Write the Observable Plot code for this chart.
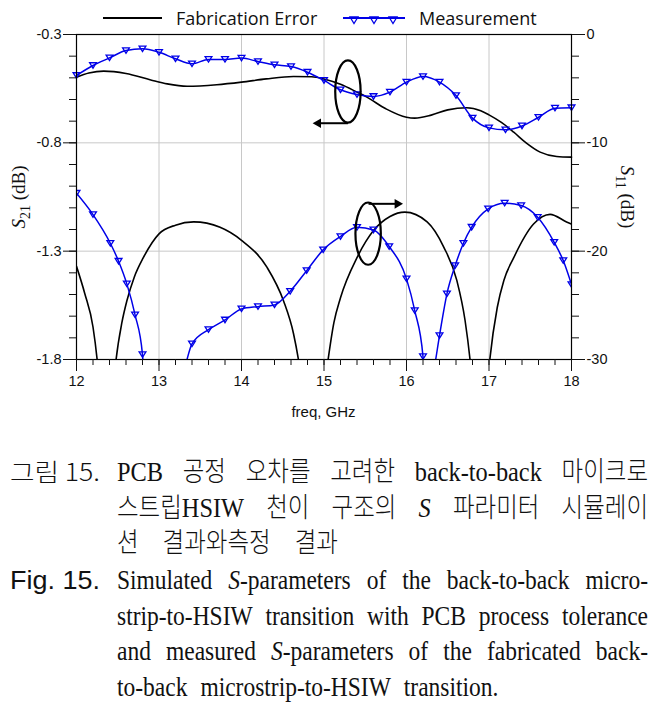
<!DOCTYPE html>
<html>
<head>
<meta charset="utf-8">
<script src="https://cdn.jsdelivr.net/npm/d3@7"></script>
<script src="https://cdn.jsdelivr.net/npm/@observablehq/plot@0.6"></script>
<style>
  html, body { margin: 0; padding: 0; background: #fff; }
  #wrap { position: relative; width: 654px; height: 707px; overflow: hidden; background: #fff; }
  #wrap svg { display: block; }
</style>
</head>
<body>
<div id="wrap"></div>
<script>
// ---------------- data ----------------
const freqTicks = [12, 13, 14, 15, 16, 17, 18];
const s21Ticks = [-0.3, -0.8, -1.3, -1.8];
const s11Ticks = [0, -10, -20, -30];

// simulated S21 with PCB tolerance ("Fabrication Error"), dB
const s21SimFreq = [12.0, 12.15, 12.33, 12.6, 12.9, 13.1, 13.34, 13.7, 14.0, 14.3, 14.63, 14.85, 15.0, 15.2, 15.4, 15.52, 15.75, 16.0, 16.1, 16.3, 16.5, 16.73, 16.9, 17.0, 17.15, 17.3, 17.45, 17.62, 17.82, 18.0];
const s21Sim     = [-0.497, -0.478, -0.469, -0.48, -0.51, -0.528, -0.539, -0.532, -0.52, -0.505, -0.494, -0.495, -0.505, -0.53, -0.566, -0.589, -0.643, -0.682, -0.686, -0.672, -0.648, -0.638, -0.652, -0.671, -0.706, -0.751, -0.8, -0.843, -0.863, -0.866];

// measured S21, dB
const s21MeasFreq = [12.0, 12.2, 12.4, 12.6, 12.8, 13.0, 13.2, 13.4, 13.6, 13.8, 14.0, 14.2, 14.4, 14.6, 14.8, 15.0, 15.2, 15.4, 15.6, 15.8, 16.0, 16.2, 16.4, 16.6, 16.8, 17.0, 17.2, 17.4, 17.6, 17.8, 18.0];
const s21Meas     = [-0.489, -0.443, -0.408, -0.374, -0.366, -0.382, -0.412, -0.435, -0.415, -0.415, -0.409, -0.425, -0.44, -0.448, -0.474, -0.512, -0.555, -0.577, -0.586, -0.566, -0.52, -0.494, -0.52, -0.582, -0.686, -0.731, -0.74, -0.722, -0.682, -0.64, -0.638];

// simulated S11 with PCB tolerance, dB (values below -30 are estimated, off-scale)
const s11SimFreq = [12.0, 12.1, 12.2, 12.25, 12.36, 12.48, 12.55, 12.61, 12.7, 12.81, 13.0, 13.2, 13.42, 13.74, 14.0, 14.31, 14.51, 14.63, 14.69, 14.87, 15.05, 15.12, 15.2, 15.4, 15.6, 15.8, 15.98, 16.25, 16.45, 16.61, 16.71, 16.77, 16.89, 17.01, 17.1, 17.18, 17.3, 17.54, 17.74, 17.94, 18.0];
const s11Sim     = [-21.4, -23.9, -27.0, -30, -42, -30, -26.6, -24.6, -22.4, -20.6, -18.4, -17.6, -17.3, -17.8, -19.0, -21.5, -24.6, -27.6, -30, -42, -30, -26.6, -24.3, -20.6, -18.1, -16.8, -16.4, -17.3, -19.6, -22.7, -26.4, -30, -42, -30, -25.2, -22.7, -20.6, -17.5, -16.6, -17.3, -17.5];

// measured S11, dB (values below -30 are estimated, off-scale)
const s11MeasFreq = [12.0, 12.2, 12.41, 12.51, 12.61, 12.71, 12.8, 12.83, 13.27, 13.4, 13.6, 13.8, 14.0, 14.2, 14.4, 14.59, 14.79, 14.99, 15.2, 15.4, 15.6, 15.79, 16.0, 16.1, 16.2, 16.22, 16.33, 16.4, 16.49, 16.59, 16.69, 16.79, 16.99, 17.19, 17.39, 17.59, 17.79, 17.9, 18.0];
const s11Meas     = [-14.65, -16.62, -19.27, -20.93, -23.02, -25.88, -29.55, -33, -31.5, -28.56, -27.24, -26.35, -25.33, -25.12, -24.96, -23.7, -21.8, -19.88, -18.65, -17.8, -18.04, -19.57, -22.56, -25.48, -29.73, -33, -31, -27.79, -23.94, -21.33, -19.27, -17.79, -16.09, -15.57, -15.79, -16.87, -19.18, -20.87, -23.08];

// annotations (ellipse centres and arrows), in left-axis units
const ellipseFreq = [15.29, 15.535];
const ellipseLevel = [-0.563, -1.219];
const arrowFrom = [15.29, 15.54];
const arrowTo   = [14.93, 15.89];
const arrowLevel = [-0.7095, -1.0815];

// ---------------- helpers ----------------
const toLeft = (db) => -0.3 + db * 0.05;        // S11 (dB) -> S21 axis units
const fromLeft = (v) => Math.round((v + 0.3) / 0.05);
const BLUE = "#0000e8";

const sim21 = s21SimFreq.map((f, i) => ({f, v: s21Sim[i]}));
const meas21 = s21MeasFreq.map((f, i) => ({f, v: s21Meas[i]}));
const sim11 = s11SimFreq.map((f, i) => ({f, v: toLeft(s11Sim[i])}));
const meas11 = s11MeasFreq.map((f, i) => ({f, v: toLeft(s11Meas[i])}));
const ellipses = ellipseFreq.map((f, i) => ({f, v: ellipseLevel[i]}));
const arrows = arrowFrom.map((f, i) => ({x1: f, x2: arrowTo[i], y: arrowLevel[i]}));

const minorX = d3.range(60, 91).map(d => d / 5);
const minorY = d3.range(-18, -2).map(d => d / 10);

const invTriangle = {
  draw(ctx, size) {
    const r = Math.sqrt(size / Math.PI);
    const w = r, h = r * 0.8;
    ctx.moveTo(-w, -h); ctx.lineTo(w, -h); ctx.lineTo(0, h); ctx.closePath();
  }
};
const ellipseSym = {
  draw(ctx, size) {
    const r = Math.sqrt(size / Math.PI);
    const rx = r, ry = r * 2.45, k = 0.5523;
    ctx.moveTo(rx, 0);
    ctx.bezierCurveTo(rx, ry * k, rx * k, ry, 0, ry);
    ctx.bezierCurveTo(-rx * k, ry, -rx, ry * k, -rx, 0);
    ctx.bezierCurveTo(-rx, -ry * k, -rx * k, -ry, 0, -ry);
    ctx.bezierCurveTo(rx * k, -ry, rx, -ry * k, rx, 0);
    ctx.closePath();
  }
};

// ---------------- chart ----------------
const chart = Plot.plot({
  width: 654,
  height: 430,
  marginTop: 34,
  marginBottom: 71,
  marginLeft: 76,
  marginRight: 83,
  style: {fontFamily: "'Liberation Sans', Arial, sans-serif", fontSize: "14px", overflow: "visible", background: "transparent", color: "#111"},
  x: {domain: [12, 18], axis: null},
  y: {domain: [-1.8, -0.3], axis: null},
  marks: [
    Plot.ruleX(freqTicks.slice(1, -1), {stroke: "#c8c8c8", strokeWidth: 1}),
    Plot.ruleY(s21Ticks.slice(1, -1), {stroke: "#c8c8c8", strokeWidth: 1}),
    Plot.line(sim21, {x: "f", y: "v", stroke: "black", strokeWidth: 1.6, curve: "monotone-x"}),
    Plot.line(sim11, {x: "f", y: "v", stroke: "black", strokeWidth: 1.6, curve: "monotone-x", clip: true}),
    Plot.line(meas21, {x: "f", y: "v", stroke: BLUE, strokeWidth: 1.5, curve: "monotone-x"}),
    Plot.line(meas11, {x: "f", y: "v", stroke: BLUE, strokeWidth: 1.5, curve: "monotone-x", clip: true}),
    Plot.dot(meas21, {x: "f", y: "v", symbol: invTriangle, r: 3.4, stroke: BLUE, fill: "none", strokeWidth: 1.3}),
    Plot.dot(meas11, {x: "f", y: "v", symbol: invTriangle, r: 3.4, stroke: BLUE, fill: "none", strokeWidth: 1.3, clip: true}),
    Plot.dot(ellipses, {x: "f", y: "v", symbol: ellipseSym, r: 12.7, stroke: "black", fill: "none", strokeWidth: 2.2}),
    Plot.link(arrows, {x1: "x1", x2: "x2", y1: "y", y2: "y", stroke: "black", strokeWidth: 2}),
    Plot.dot(arrows, {x: "x2", y: "y", symbol: "triangle", rotate: d => d.x2 < d.x1 ? -90 : 90, r: 3.6, fill: "black", stroke: "none"}),
    Plot.frame({stroke: "black", strokeWidth: 1.2}),
    Plot.axisX(freqTicks, {anchor: "bottom", tickSize: 12, tickPadding: 4, fontSize: 14.5, tickFormat: d => String(d), label: null}),
    Plot.axisX(minorX, {anchor: "bottom", tickSize: 6, tickFormat: () => "", label: null}),
    Plot.axisY(s21Ticks, {anchor: "left", tickSize: 13, tickPadding: 2, fontSize: 14.5, tickFormat: d => d.toFixed(1), label: null}),
    Plot.axisY(minorY, {anchor: "left", tickSize: 7, tickFormat: () => "", label: null}),
    Plot.axisY(s11Ticks.map(toLeft), {anchor: "right", tickSize: 13, tickPadding: 2, fontSize: 14.5, tickFormat: d => String(fromLeft(d)), label: null}),
    Plot.axisY(minorY, {anchor: "right", tickSize: 7, tickFormat: () => "", label: null})
  ]
});
document.getElementById("wrap").appendChild(chart);

const svg = d3.select(chart);
// x-axis title
svg.append("text").attr("x", 323.5).attr("y", 417).attr("text-anchor", "middle")
  .attr("font-family", "'Liberation Sans', Arial, sans-serif").attr("font-size", 15).attr("fill", "#111")
  .text("freq, GHz");
// y-axis titles
function yTitle(x, rot, sub) {
  const t = svg.append("text").attr("transform", `translate(${x},197) rotate(${rot})`)
    .attr("text-anchor", "middle").attr("font-family", "'Liberation Serif', 'Times New Roman', serif")
    .attr("font-size", 19).attr("fill", "#111");
  t.append("tspan").attr("font-style", "italic").text("S");
  t.append("tspan").attr("font-size", 14).attr("dy", 5).text(sub);
  t.append("tspan").attr("dy", -5).text(" (dB)");
}
yTitle(25, -90, "21");
yTitle(621, 90, "11");

// ---------------- legend ----------------
const leg = d3.select("#wrap").append("svg").attr("width", 654).attr("height", 34)
  .style("position", "absolute").style("left", "0px").style("top", "0px");
const legFont = "'Open Sans', 'Noto Sans', sans-serif";
leg.append("line").attr("x1", 103).attr("x2", 162).attr("y1", 18).attr("y2", 18).attr("stroke", "black").attr("stroke-width", 2);
leg.append("text").attr("x", 176).attr("y", 24.5).attr("font-family", legFont).attr("font-size", 18).attr("fill", "#111").text("Fabrication Error");
leg.append("line").attr("x1", 343).attr("x2", 405).attr("y1", 18).attr("y2", 18).attr("stroke", BLUE).attr("stroke-width", 2);
[354, 374, 393].forEach(cx => {
  leg.append("path").attr("d", `M${cx - 4},${17}L${cx + 4},${17}L${cx},${23.5}Z`).attr("fill", "none").attr("stroke", BLUE).attr("stroke-width", 1.3);
});
leg.append("text").attr("x", 419).attr("y", 24.5).attr("font-family", legFont).attr("font-size", 18).attr("fill", "#111").text("Measurement");

// ---------------- caption ----------------
const cap = d3.select("#wrap").append("svg").attr("width", 654).attr("height", 277)
  .style("position", "absolute").style("left", "0px").style("top", "430px");
const serif = "'Liberation Serif', 'Times New Roman', serif";
const hangulFont = "'Noto Sans CJK KR', sans-serif";
const sansK = "'Noto Sans CJK KR', 'Liberation Sans', sans-serif";
const sansE = "'Liberation Sans', Arial, sans-serif";

function addWord(parent, word, latinSize, hangulSize) {
  const t = parent.append("text").attr("font-family", serif).attr("font-size", latinSize).attr("fill", "#111");
  word.split("*").forEach((part, i) => {
    if (!part) return;
    if (i % 2 === 1) { t.append("tspan").attr("font-style", "italic").text(part); return; }
    part.split(/([\uAC00-\uD7A3]+)/).forEach(run => {
      if (!run) return;
      const ts = t.append("tspan").text(run);
      if (/[\uAC00-\uD7A3]/.test(run)) ts.attr("font-family", hangulFont).attr("font-size", hangulSize).attr("font-weight", 300);
    });
  });
  return t;
}
function layoutLine(y, words, {x0 = 117, x1 = 648, justify = true, size = 27, hsize = 27, sx = 0.86, gap = 14} = {}) {
  const g = cap.append("g").attr("transform", `translate(${x0},${y}) scale(${sx},1)`);
  const ts = words.map(w => addWord(g, w, size, hsize));
  const ws = ts.map(t => t.node().getComputedTextLength());
  const avail = (x1 - x0) / sx;
  const g0 = justify && words.length > 1 ? (avail - d3.sum(ws)) / (words.length - 1) : gap / sx;
  let x = 0;
  ts.forEach((t, i) => { t.attr("x", x); x += ws[i] + g0; });
}
function label(y, text, font, size, weight) {
  cap.append("text").attr("x", 10).attr("y", y).attr("font-family", font).attr("font-size", size)
    .attr("font-weight", weight).attr("fill", "#111")
    .attr("textLength", 90).attr("lengthAdjust", "spacingAndGlyphs").text(text);
}

const capKo = [
  ["PCB", "공정", "오차를", "고려한", "back-to-back", "마이크로"],
  ["스트립HSIW", "천이", "구조의", "*S*", "파라미터", "시뮬레이"],
  ["션", "결과와측정", "결과"]
];
const capEn = [
  ["Simulated", "*S*-parameters", "of", "the", "back-to-back", "micro-"],
  ["strip-to-HSIW", "transition", "with", "PCB", "process", "tolerance"],
  ["and", "measured", "*S*-parameters", "of", "the", "fabricated", "back-"],
  ["to-back", "microstrip-to-HSIW", "transition."]
];

label(51, "그림 15.", sansK, 24, 300);
capKo.forEach((w, i) => layoutLine(51 + i * 35.5, w, {justify: i < capKo.length - 1, size: 28, hsize: 27, sx: 0.87, gap: 24}));
label(159, "Fig. 15.", sansE, 25, 400);
capEn.forEach((w, i) => layoutLine(159 + i * 35.7, w, {justify: i < capEn.length - 1, size: 27, sx: 0.87, gap: 13}));
</script>
</body>
</html>
